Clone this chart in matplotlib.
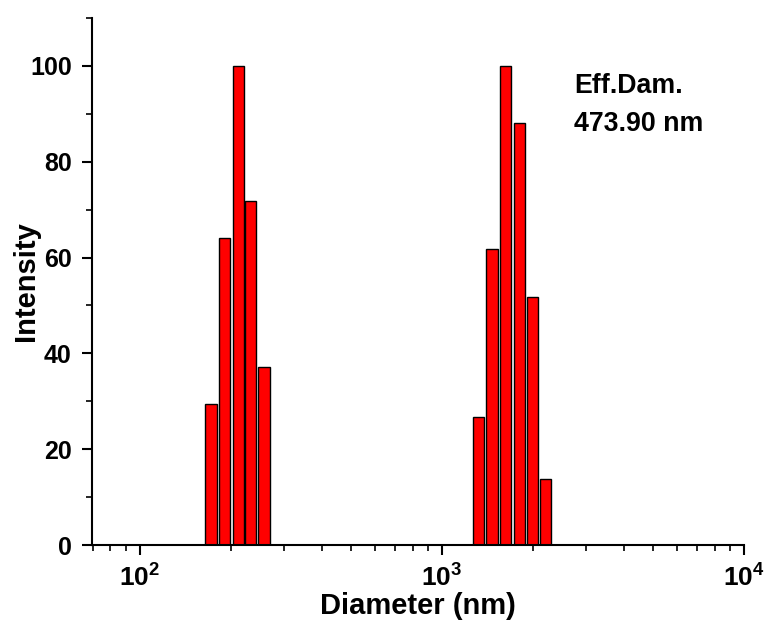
import numpy as np
import matplotlib
matplotlib.use('Agg')
import matplotlib.pyplot as plt
from matplotlib.ticker import LogLocator, MultipleLocator

plt.rcParams['font.family'] = 'Liberation Sans'
plt.rcParams['font.weight'] = 'bold'
plt.rcParams['mathtext.fontset'] = 'custom'
plt.rcParams['mathtext.rm'] = 'Liberation Sans:bold'
plt.rcParams['mathtext.it'] = 'Liberation Sans:bold'
plt.rcParams['mathtext.bf'] = 'Liberation Sans:bold'
plt.rcParams['mathtext.default'] = 'regular'

# size distribution (bin centre diameter in nm, intensity)
diam_small = [172, 191, 212, 233, 258]
int_small = [29.4, 64.1, 100, 71.8, 37.2]
diam_large = [1323, 1464, 1625, 1807, 2000, 2203]
int_large = [26.8, 61.7, 100, 88.0, 51.8, 13.8]
eff_dam = '473.90 nm'

diam = np.array(diam_small + diam_large, dtype=float)
inten = np.array(int_small + int_large)

# bar width in decades (log axis)
w = 0.0375
left = diam * 10 ** (-w / 2)
right = diam * 10 ** (w / 2)

fig = plt.figure(figsize=(7.69, 6.23), dpi=100)
ax = fig.add_axes([0.1196, 0.1252, 0.8479, 0.8459])

ax.bar(left, inten, width=right - left, align='edge',
       color='#ff0000', edgecolor='black', linewidth=1.0)

ax.set_xscale('log')
ax.set_xlim(69.5, 10000)
ax.set_ylim(0, 110)

ax.xaxis.set_major_locator(LogLocator(base=10, numticks=10))
ax.xaxis.set_minor_locator(LogLocator(base=10, subs=np.arange(2, 10), numticks=20))
ax.yaxis.set_major_locator(MultipleLocator(20))
ax.yaxis.set_minor_locator(MultipleLocator(10))

for s in ['top', 'right']:
    ax.spines[s].set_visible(False)
for s in ['left', 'bottom']:
    ax.spines[s].set_linewidth(1.5)

ax.tick_params(which='major', length=7, width=1.5, labelsize=18, direction='out')
ax.tick_params(which='minor', length=4, width=1.2, direction='out')
ax.tick_params(axis='x', which='major', labelsize=19, pad=7)
ax.tick_params(axis='y', which='major', pad=7.5)

ax.set_xlabel('Diameter (nm)', fontsize=21, fontweight='bold', labelpad=0)
ax.set_ylabel('Intensity', fontsize=21, fontweight='bold', labelpad=-7)

ax.text(0.739, 0.895, 'Eff.Dam.\n' + eff_dam, transform=ax.transAxes,
        fontsize=19.3, fontweight='bold', va='top', ha='left', linespacing=1.6)

fig.savefig('out.png', dpi=100)
